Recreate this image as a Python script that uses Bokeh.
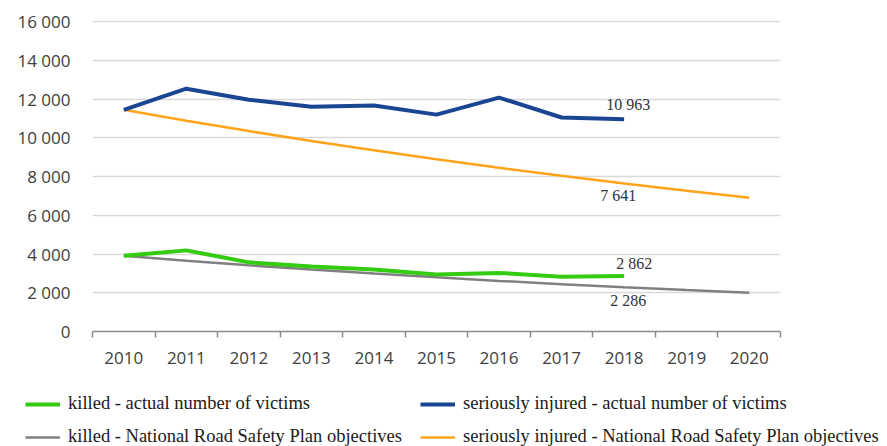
from bokeh.plotting import figure
from bokeh.models import ColumnDataSource, Range1d, FixedTicker, Legend, LegendItem
from bokeh.core.properties import value
from bokeh.embed import file_html
from bokeh.resources import INLINE

years = [2010, 2011, 2012, 2013, 2014, 2015, 2016, 2017, 2018, 2019, 2020]
killed_actual = [3908, 4189, 3571, 3357, 3202, 2938, 3026, 2831, 2862]
killed_target = [3908, 3655, 3418, 3196, 2989, 2796, 2614, 2445, 2286, 2138, 2000]
injured_actual = [11450, 12540, 11970, 11610, 11670, 11200, 12080, 11050, 10963]
injured_target = [11450, 10886, 10350, 9840, 9355, 8894, 8456, 8039, 7641, 7265, 6907]
y_ticks = [0, 2000, 4000, 6000, 8000, 10000, 12000, 14000, 16000]
y_tick_labels = ["0", "2 000", "4 000", "6 000", "8 000", "10 000", "12 000", "14 000", "16 000"]
legend_labels = [
    "killed - actual number of victims",
    "seriously injured - actual number of victims",
    "killed - National Road Safety Plan objectives",
    "seriously injured - National Road Safety Plan objectives",
]
colors = {"ka": "#33cc11", "ia": "#1a4592", "kt": "#808080", "it": "#ffa31a"}
widths = {"ka": 4, "ia": 4, "kt": 2.5, "it": 2.5}

def fmt(v):
    return f"{v:,}".replace(",", " ")

W = 887
p = figure(width=W, height=380, output_backend="svg", toolbar_location=None,
           x_range=Range1d(2009.5, 2020.5), y_range=Range1d(0, 16060),
           min_border_left=92, min_border_right=107, min_border_top=20,
           min_border_bottom=49)
p.outline_line_color = None

p.yaxis.ticker = FixedTicker(ticks=y_ticks)
p.yaxis.major_label_overrides = {t: l for t, l in zip(y_ticks, y_tick_labels)}
p.yaxis.axis_line_color = None
p.yaxis.major_tick_line_color = None
p.yaxis.minor_tick_line_color = None
p.yaxis.major_label_standoff = 16
p.yaxis.major_label_text_font = "Open Sans"
p.yaxis.major_label_text_font_size = "17px"
p.yaxis.major_label_text_color = "#404040"

p.xaxis.ticker = FixedTicker(ticks=years, minor_ticks=[y - 0.5 for y in years] + [years[-1] + 0.5])
p.xaxis.axis_line_color = "#8c8c8c"
p.xaxis.axis_line_width = 1.5
p.xaxis.major_tick_line_color = None
p.xaxis.minor_tick_line_color = "#8c8c8c"
p.xaxis.minor_tick_line_width = 1.5
p.xaxis.minor_tick_in = 0
p.xaxis.minor_tick_out = 6
p.xaxis.major_label_standoff = 14
p.xaxis.major_label_text_font = "Open Sans"
p.xaxis.major_label_text_font_size = "17px"
p.xaxis.major_label_text_color = "#404040"

p.xgrid.grid_line_color = None
p.ygrid.ticker = FixedTicker(ticks=y_ticks[1:])
p.ygrid.grid_line_color = "#d9d9d9"
p.ygrid.grid_line_width = 1.5

n = len(killed_actual)
p.line(years, killed_target, line_color=colors["kt"], line_width=widths["kt"])
p.line(years, injured_target, line_color=colors["it"], line_width=widths["it"])
p.line(years[:n], killed_actual, line_color=colors["ka"], line_width=widths["ka"])
p.line(years[:n], injured_actual, line_color=colors["ia"], line_width=widths["ia"])

# data labels at 2018
lab_up = ColumnDataSource(dict(x=[years[n - 1]] * 2,
                               y=[injured_actual[-1], killed_actual[-1]],
                               t=[fmt(injured_actual[-1]), fmt(killed_actual[-1])],
                               dx=[4, 10], dy=[-6, -4]))
lab_dn = ColumnDataSource(dict(x=[years[n - 1]] * 2,
                               y=[injured_target[n - 1], killed_target[n - 1]],
                               t=[fmt(injured_target[n - 1]), fmt(killed_target[n - 1])],
                               dx=[-6, 4], dy=[3, 5]))
p.text(x="x", y="y", text="t", source=lab_up, text_align="center", text_baseline="bottom",
       x_offset="dx", y_offset="dy", text_font=value("Liberation Serif"),
       text_font_size="16px", text_color="#333333")
p.text(x="x", y="y", text="t", source=lab_dn, text_align="center", text_baseline="top",
       x_offset="dx", y_offset="dy", text_font=value("Liberation Serif"),
       text_font_size="16px", text_color="#333333")

# legend panel (separate root below the chart)
lg = figure(width=W, height=66, output_backend="svg", toolbar_location=None,
            x_range=Range1d(0, 1), y_range=Range1d(0, 1),
            x_axis_type=None, y_axis_type=None,
            min_border_left=0, min_border_right=0, min_border_top=0, min_border_bottom=0)
lg.outline_line_color = None
lg.xgrid.grid_line_color = None
lg.ygrid.grid_line_color = None
rk = {}
for key in ["ka", "ia", "kt", "it"]:
    rk[key] = lg.line([5, 6], [5, 6], line_color=colors[key], line_width=widths[key])

legend = Legend(items=[
    LegendItem(label=legend_labels[0], renderers=[rk["ka"]]),
    LegendItem(label=legend_labels[1], renderers=[rk["ia"]]),
    LegendItem(label=legend_labels[2], renderers=[rk["kt"]]),
    LegendItem(label=legend_labels[3], renderers=[rk["it"]]),
], orientation="horizontal", ncols=2, location=(25, -1))
legend.label_text_font = "Liberation Serif"
legend.label_text_font_size = "18.5px"
legend.label_text_color = "#1a1a1a"
legend.glyph_width = 35
legend.label_standoff = 8
legend.label_width = 340
legend.spacing = 12
legend.padding = 0
legend.margin = 0
legend.border_line_color = None
legend.background_fill_alpha = 0
lg.add_layout(legend, "center")

open("out.html", "w").write(file_html((p, lg), INLINE))
